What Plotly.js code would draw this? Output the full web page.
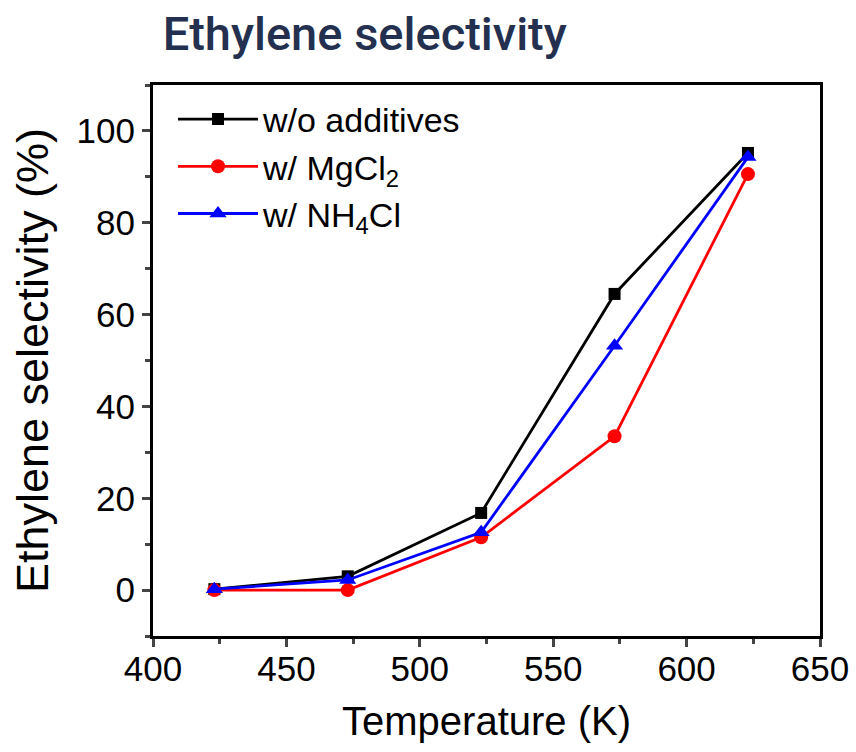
<!DOCTYPE html>
<html><head><meta charset="utf-8">
<script src="https://cdn.plot.ly/plotly-3.0.1.min.js"></script>
<style>body{margin:0;background:#fff}#chart{width:856px;height:752px}</style>
</head><body><div id="chart"></div>
<script>
const temperature = [423, 473, 523, 573, 623];
const woAdditives = [0.2, 3.0, 16.8, 64.5, 95.2];
const wMgCl2 = [0.0, 0.0, 11.5, 33.5, 90.6];
const wNH4Cl = [0.2, 2.2, 12.6, 53.2, 94.3];
const seriesNames = ['w/o additives', 'w/ MgCl<sub>2</sub>', 'w/ NH<sub>4</sub>Cl'];
const xTicks = [400, 450, 500, 550, 600, 650];
const yTicks = [0, 20, 40, 60, 80, 100];

const traces = [
  {x: temperature, y: woAdditives, name: seriesNames[0], mode: 'lines+markers',
   line: {color: '#000000', width: 2.8}, marker: {symbol: 'square', size: 12, color: '#000000'}},
  {x: temperature, y: wMgCl2, name: seriesNames[1], mode: 'lines+markers',
   line: {color: '#ff0000', width: 2.8}, marker: {symbol: 'circle', size: 14, color: '#ff0000'}},
  {x: temperature, y: wNH4Cl, name: seriesNames[2], mode: 'lines+markers',
   line: {color: '#0000ff', width: 2.8}, marker: {symbol: 'triangle-up', size: 15, color: '#0000ff'}}
];

const layout = {
  width: 856, height: 752,
  margin: {l: 153, r: 36, t: 85, b: 116},
  paper_bgcolor: '#fff', plot_bgcolor: '#fff',
  font: {family: 'Liberation Sans, Arial, sans-serif', color: '#000'},
  title: {text: 'Ethylene selectivity', x: 0.19, xanchor: 'left', y: 0.955, yanchor: 'middle',
    font: {family: 'Roboto, Open Sans, sans-serif', size: 47, weight: 500, color: '#24304f'}},
  xaxis: {range: [400, 650], tickvals: xTicks, ticks: 'outside', ticklen: 8, tickwidth: 3,
    showline: true, linewidth: 3, linecolor: '#000', mirror: true, showgrid: false, zeroline: false,
    automargin: false, ticklabelstandoff: -8,
    tickfont: {size: 35}, title: {text: 'Temperature (K)', font: {size: 40}, standoff: 20},
    minor: {tickvals: [425, 475, 525, 575, 625], ticks: 'outside', ticklen: 5, tickwidth: 3, showgrid: false}},
  yaxis: {range: [-10, 110], tickvals: yTicks, ticks: 'outside', ticklen: 8, tickwidth: 3,
    showline: true, linewidth: 3, linecolor: '#000', mirror: true, showgrid: false, zeroline: false,
    automargin: false,
    tickfont: {size: 35}, title: {text: 'Ethylene selectivity (%)', font: {size: 45}, standoff: 14},
    minor: {tickvals: [-10, 10, 30, 50, 70, 90, 110], ticks: 'outside', ticklen: 5, tickwidth: 3, showgrid: false}},
  legend: {x: 0.03, y: 0.99, xanchor: 'left', yanchor: 'top', bgcolor: 'rgba(0,0,0,0)',
    font: {size: 34}, tracegroupgap: 0, itemwidth: 80},
  showlegend: true
};
Plotly.newPlot('chart', traces, layout, {displayModeBar: false, staticPlot: true});
</script></body></html>
